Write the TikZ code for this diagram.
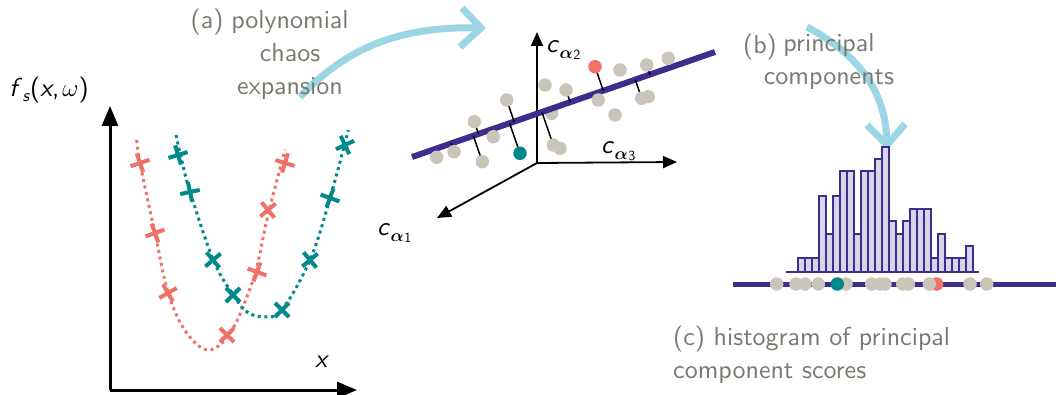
\documentclass[tikz,border=0pt]{standalone}
\usepackage{amsmath}
\usepackage{fontspec}
\setsansfont{lmsans10-regular.otf}[ItalicFont=lmsans10-oblique.otf,BoldFont=lmsans10-bold.otf]
\usetikzlibrary{arrows.meta,calc}
\definecolor{cred}{HTML}{F0716A}
\definecolor{cteal}{HTML}{00898A}
\definecolor{cpurp}{HTML}{3F2C8C}
\definecolor{clav}{HTML}{D8D4EA}
\definecolor{cgray}{HTML}{C9C5B9}
\definecolor{ctext}{HTML}{7A7970}
\definecolor{ccyan}{HTML}{9CD5E4}
\newcommand{\subfont}{\fontsize{17}{17}\selectfont}
\newcommand{\digfont}{\fontsize{14}{14}\selectfont}
\tikzset{
  graytext/.style={font=\sffamily\fontsize{26}{33}\selectfont, text=ctext, inner sep=0pt},
  mathlabel/.style={font=\sffamily\fontsize{26}{30}\selectfont, text=black, inner sep=0pt},
  bigaxis/.style={line width=3pt, -{Triangle[length=20pt,width=16pt]}},
  smallaxis/.style={line width=1.8pt, -{Triangle[length=14pt,width=12pt]}},
  dotcurve/.style={line width=3pt, dash pattern=on 3pt off 3.6pt, smooth, tension=0.6},
  xcross/.pic={\draw[line width=4pt] (-10,0) -- (10,0) (0,-10) -- (0,10);},
  gpt/.style={circle, fill=cgray, minimum size=13.5pt, inner sep=0pt},
  tpt/.style={circle, fill=cteal, minimum size=13.5pt, inner sep=0pt},
  rpt/.style={circle, fill=cred, minimum size=13.5pt, inner sep=0pt},
  proj/.style={line width=1.5pt, black},
  pcline/.style={line width=6pt, cpurp},
  flow/.style={line width=7pt, ccyan},
  histbar/.style={draw=cpurp, fill=clav, line width=2pt},
}
\begin{document}
\begin{tikzpicture}[x=1pt,y=-1pt]
\useasboundingbox (0,0) rectangle (1056,395);

% ---------------- left plot
\coordinate (corner) at (110,390);
\coordinate (ytip) at (110,106);
\coordinate (xtip) at (357,390);
\draw[bigaxis] (corner) -- (ytip);
\draw[bigaxis] (corner) -- (xtip);
\node[mathlabel] (fl) at (49,90) {\textit{f}\kern0.5pt\raisebox{-5pt}{\subfont\textit{s}}(\textit{x},\kern3pt$\omega$)};
\node[mathlabel] (xl) at (322,362) {\textit{x}};

\draw[dotcurve, cred] plot coordinates {(136.7,140) (140,163.3) (155,233.3) (168.3,293.3) (186,332) (208.3,350) (230,333.3) (248.3,293.3) (258,262) (268,215) (285,150)};
\draw[dotcurve, cteal] plot coordinates {(176,135) (181.7,160) (190,191.7) (213.3,260) (233.3,295) (246.7,311.7) (263.3,316.7) (281.7,310) (310,260) (330,198.3) (348.3,130)};

\foreach \p/\r in {(140,163)/19,(155,233)/20,(168,293)/30,(227,335)/45,(257,272)/-20,(268,210)/40,(285,163)/-17}
  \pic[draw=cred, rotate=\r] at \p {xcross};
\foreach \p/\r in {(178,155)/17,(190,192)/12,(213,260)/40,(233,295)/45,(282,310)/45,(310,260)/40,(330,198)/-20,(345,145)/25}
  \pic[draw=cteal, rotate=\r] at \p {xcross};

% ---------------- arrow (a) and label
\coordinate (a0) at (300,97);
\coordinate (a1) at (481,28);
\coordinate (a1u) at (462,8);
\coordinate (a1d) at (460,47);
\draw[flow] (a0) .. controls (340,55) and (390,25) .. (a1);
\draw[flow, line join=miter] (a1u) -- (a1) -- (a1d);
\node[graytext, align=center] (pce) at (290,55) {polynomial\\chaos\\expansion};
\node[graytext] (la) at (207,22) {(a)};

% ---------------- 3D scatter
\coordinate (O) at (537,163);
\coordinate (c2tip) at (537,32);
\coordinate (c3tip) at (677,162);
\coordinate (c1tip) at (437,218);
\draw[smallaxis] (O) -- (c2tip);
\draw[smallaxis] (O) -- (c3tip);
\draw[smallaxis] (O) -- (c1tip);
\node[mathlabel, anchor=west] (lc2) at (546,50) {\textit{c}\kern0.5pt\raisebox{-6pt}{\subfont$\boldsymbol{\alpha}$\kern0.5pt\raisebox{-1.5pt}{\digfont 2}}};
\node[mathlabel, anchor=west] (lc3) at (601,151) {\textit{c}\kern0.5pt\raisebox{-6pt}{\subfont$\boldsymbol{\alpha}$\kern0.5pt\raisebox{-1.5pt}{\digfont 3}}};
\node[mathlabel, anchor=west] (lc1) at (377,233) {\textit{c}\kern0.5pt\raisebox{-6pt}{\subfont$\boldsymbol{\alpha}$\kern0.5pt\raisebox{-1.5pt}{\digfont 1}}};

\coordinate (L1) at (412,157);
\coordinate (L2) at (715,52);

\coordinate (g1) at (436.7,157.3);
\coordinate (g2) at (454,151.7);
\coordinate (g3) at (474.3,121.7);
\coordinate (g4) at (482.3,161.7);
\coordinate (g5) at (493.3,136.7);
\coordinate (g6) at (506.7,100);
\coordinate (g7) at (545,85);
\coordinate (g8) at (551.7,113.3);
\coordinate (g9) at (553.3,145);
\coordinate (g10) at (560,148.3);
\coordinate (g11) at (566,90);
\coordinate (g12) at (598.3,100);
\coordinate (g13) at (620,70);
\coordinate (g14) at (615,115);
\coordinate (g15) at (646.7,65);
\coordinate (g16) at (668.3,58.3);
\coordinate (g17) at (641.7,98.3);
\coordinate (g18) at (648.3,96.7);
\coordinate (tp) at (520,153.3);
\coordinate (rp) at (595,66.7);

\node[gpt] (ng8) at (g8) {};
\draw[pcline] (L1) -- (L2);
\foreach \n in {g2,g3,g4,g5,g6,g9,g11,g15,g17,tp,rp}
  \draw[proj] (\n) -- ($(L1)!(\n)!(L2)$);
\foreach \n in {g1,g2,g3,g4,g5,g6,g7,g9,g10,g11,g12,g13,g14,g15,g16,g17,g18}
  \node[gpt] (n\n) at (\n) {};
\node[tpt] (ntp) at (tp) {};
\node[rpt] (nrp) at (rp) {};

% ---------------- arrow (b) and label
\coordinate (b0) at (807,27);
\coordinate (b1) at (887,145);
\coordinate (b1l) at (867,125);
\coordinate (b1r) at (905,124);
\draw[flow] (b0) .. controls (850,50) and (887,85) .. (b1);
\draw[flow, line join=miter] (b1l) -- (b1) -- (b1r);
\node[graytext, align=center] (pcl) at (829,62) {principal\\components};
\node[graytext] (lb) at (760,47) {(b)};

% ---------------- histogram
\coordinate (h0) at (786,271.7);
\coordinate (h1) at (979.3,271.7);
\draw[cpurp, line width=2pt] (h0) -- (h1);
\foreach \h [count=\i] in {1,1,1,6,3,6,8,8,3,8,8,9,10,4,3,4,5,5,5,1,3,1,1,1,2}
  \draw[histbar] ({798.3+7*(\i-1)},271.7) rectangle ++(7,{-(12.4*\h+1)});

\coordinate (s0) at (733,284);
\coordinate (s1) at (1056,284);
\draw[cpurp, line width=5pt] (s0) -- (s1);
\node[rpt] (srp) at (936.7,284) {};
\foreach \x [count=\i] in {776.7,796,805,818.3,846,871.7,880,885,902.7,908.3,929.3,970,986.7}
  \node[gpt] (s\i) at (\x,284) {};
\node[tpt] (stp) at (837.3,284) {};

\node[graytext, align=left, anchor=west] (lc) at (673,354.5) {(c) histogram of principal\\component scores};
\end{tikzpicture}
\end{document}
